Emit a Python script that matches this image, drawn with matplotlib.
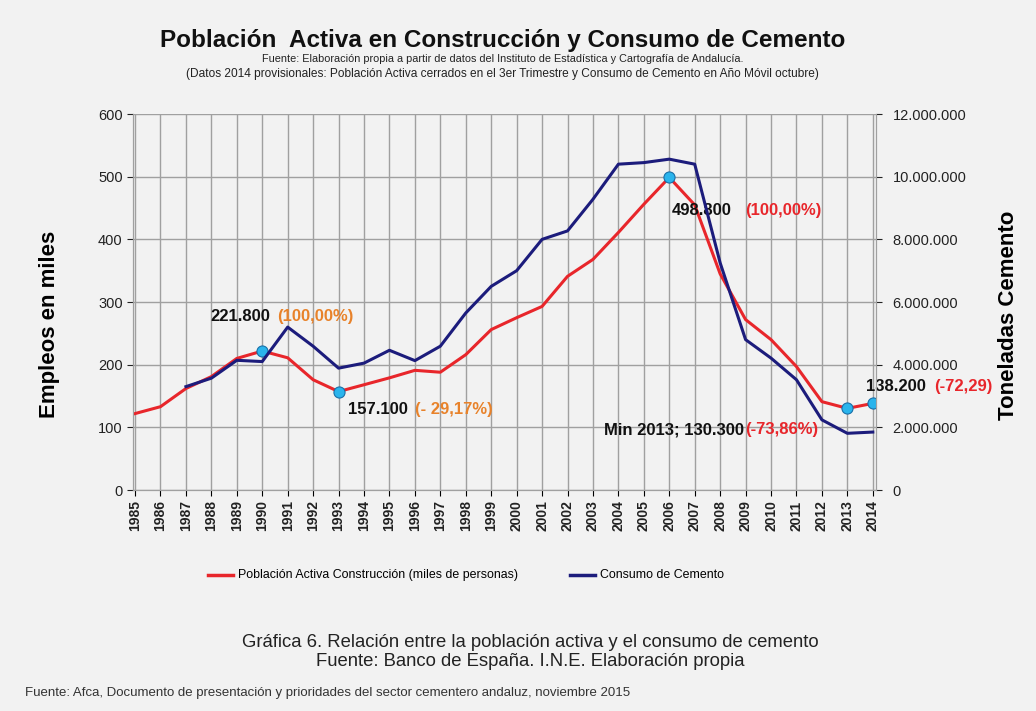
import matplotlib
matplotlib.use("Agg")
import matplotlib.pyplot as plt
from matplotlib.ticker import FuncFormatter
import numpy as np

plt.rcParams['font.family'] = ['Liberation Sans', 'DejaVu Sans']

# datos
years = list(range(1985, 2015))
poblacion = [122, 133, 162, 181, 210, 221.8, 211, 176, 157.1, 168, 179, 191, 188, 216, 256,
             275, 293, 341, 368, 411, 456, 498.8, 455, 345, 272, 240, 197, 141, 130.3, 138.2]
cem_years = list(range(1987, 2015))
cemento = [3300000, 3570000, 4140000, 4100000, 5200000, 4590000, 3890000, 4050000, 4460000,
           4130000, 4590000, 5650000, 6500000, 7000000, 8000000, 8270000, 9280000, 10400000,
           10450000, 10560000, 10400000, 7250000, 4800000, 4210000, 3520000, 2240000, 1810000,
           1850000]
marcas_x = [1990, 1993, 2006, 2013, 2014]
marcas_y = [221.8, 157.1, 498.8, 130.3, 138.2]

bg = '#f2f2f2'
rojo = '#e8262b'
azul = '#1c1c7c'
naranja = '#e8822a'

fig = plt.figure(figsize=(10.36, 7.11), dpi=100, facecolor=bg)
ax = fig.add_axes([0.1284, 0.3108, 0.717, 0.5288])
ax.set_facecolor(bg)
ax2 = ax.twinx()

ax.plot(years, poblacion, color=rojo, lw=2.2, zorder=3)
ax2.plot(cem_years, cemento, color=azul, lw=2.2, zorder=2)
ax.plot(marcas_x, marcas_y, 'o', ms=8, mfc='#2ab4ec', mec='#1a6fa8', mew=0.8, zorder=4)

ax.set_xlim(1984.92, 2014.12)
ax.set_ylim(0, 600)
ax2.set_ylim(0, 12000000)
ax.set_xticks(years)
ax.set_xticklabels([str(y) for y in years], rotation=90, fontsize=10, fontweight='bold', color='#222222')
ax.set_yticks(range(0, 601, 100))
ax.tick_params(axis='y', labelsize=10.5, colors='#222222', length=4)
ax.tick_params(axis='x', length=4)
ax2.set_yticks(range(0, 12000001, 2000000))
ax2.yaxis.set_major_formatter(FuncFormatter(lambda v, p: '{:,.0f}'.format(v).replace(',', '.')))
ax2.tick_params(axis='y', labelsize=10.5, colors='#222222', length=4, pad=8)
ax.grid(True, color='#a0a0a0', lw=1.0)
ax.set_axisbelow(True)
for a in (ax, ax2):
    for s in a.spines.values():
        s.set_color('#a0a0a0')
    a.spines['top'].set_visible(False)

ax.set_ylabel('Empleos en miles', fontsize=16, fontweight='bold')
ax.yaxis.set_label_coords(-0.098, 0.44)
ax2.set_ylabel('Toneladas Cemento', fontsize=16, fontweight='bold')
ax2.yaxis.set_label_coords(1.164, 0.465)

# etiquetas de los puntos
kw = dict(fontsize=12, fontweight='bold', va='center', clip_on=False)
ax.text(1987.95, 277, '221.800', color='#111111', **kw)
ax.text(1990.6, 277, '(100,00%)', color=naranja, **kw)
ax.text(1993.37, 128, '157.100', color='#111111', **kw)
ax.text(1996.0, 128, '(- 29,17%)', color=naranja, **kw)
ax.text(2006.1, 446, '498.800', color='#111111', **kw)
ax.text(2009.0, 446, '(100,00%)', color=rojo, **kw)
ax.text(2003.43, 96, 'Min 2013; 130.300', color='#111111', **kw)
ax.text(2008.97, 96, '(-73,86%)', color=rojo, **kw)
ax.text(2013.72, 166, '138.200', color='#111111', **kw)
ax.text(2016.43, 166, '(-72,29)', color=rojo, **kw)

fig.text(0.485, 0.943, 'Población  Activa en Construcción y Consumo de Cemento',
         ha='center', va='center', fontsize=17.5, fontweight='bold', color='#111111')
fig.text(0.485, 0.917, 'Fuente: Elaboración propia a partir de datos del Instituto de Estadística y Cartografía de Andalucía.',
         ha='center', va='center', fontsize=7.8, color='#222222')
fig.text(0.485, 0.896, '(Datos 2014 provisionales: Población Activa cerrados en el 3er Trimestre y Consumo de Cemento en Año Móvil octubre)',
         ha='center', va='center', fontsize=8.6, color='#222222')

# leyenda
ax.plot([1987.85, 1988.85], [-135, -135], color=rojo, lw=2.5, clip_on=False)
ax.text(1989.05, -135, 'Población Activa Construcción (miles de personas)', fontsize=8.9, va='center', clip_on=False)
ax.plot([2002.09, 2003.07], [-135, -135], color=azul, lw=2.5, clip_on=False)
ax.text(2003.27, -135, 'Consumo de Cemento', fontsize=8.9, va='center', clip_on=False)

fig.text(0.512, 0.096, 'Gráfica 6. Relación entre la población activa y el consumo de cemento',
         ha='center', va='center', fontsize=13.3, color='#222222')
fig.text(0.512, 0.069, 'Fuente: Banco de España. I.N.E. Elaboración propia',
         ha='center', va='center', fontsize=13.3, color='#222222')
fig.text(0.024, 0.025, 'Fuente: Afca, Documento de presentación y prioridades del sector cementero andaluz, noviembre 2015',
         ha='left', va='center', fontsize=9.55, color='#333333')

fig.savefig('out.png', dpi=100, facecolor=bg)
